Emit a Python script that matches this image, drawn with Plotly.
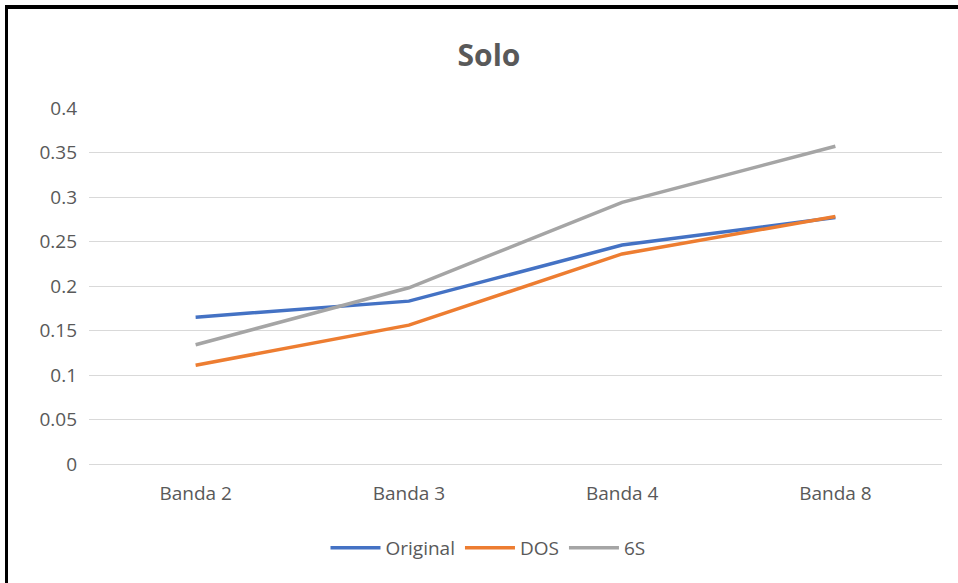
import plotly.graph_objects as go

categories = ["Banda 2", "Banda 3", "Banda 4", "Banda 8"]
original = [0.165, 0.183, 0.246, 0.277]
dos = [0.111, 0.156, 0.236, 0.278]
six_s = [0.134, 0.198, 0.294, 0.357]
y_ticks = [0, 0.05, 0.1, 0.15, 0.2, 0.25, 0.3, 0.35, 0.4]
y_tick_text = ["0", "0.05", "0.1", "0.15", "0.2", "0.25", "0.3", "0.35", "0.4"]

FONT = "Open Sans"
TXT = "#595959"

fig = go.Figure()
for name, vals, col in [("Original", original, "#4472C4"),
                        ("DOS", dos, "#ED7D31"),
                        ("6S", six_s, "#A5A5A5")]:
    fig.add_trace(go.Scatter(x=categories, y=vals, name=name, mode="lines",
                             line=dict(color=col, width=3.5)))

W, H = 958, 583
L, R, T, B = 89, 16, 108, 119
pw, ph = W - L - R, H - T - B

def px_x(p):
    return (p - L) / pw

def px_y(p):
    return (H - B - p) / ph

fig.update_layout(
    width=W, height=H,
    margin=dict(l=L, r=R, t=T, b=B),
    paper_bgcolor="white", plot_bgcolor="white",
    font=dict(family=FONT, color=TXT, size=19),
    title=dict(text="<b>Solo</b>", x=px_x(489), xref="paper", xanchor="center",
               y=1 - 55 / H, yanchor="middle",
               font=dict(family=FONT, size=30, color=TXT)),
    xaxis=dict(showgrid=False, showline=False, zeroline=False, ticks="",
               tickfont=dict(size=19, color=TXT), range=[-0.5, 3.5],
               ticklabelstandoff=16),
    yaxis=dict(range=[0, 0.4], tickvals=y_ticks, ticktext=y_tick_text,
               showgrid=True, gridcolor="#D9D9D9", gridwidth=1,
               zeroline=True, zerolinecolor="#D9D9D9", zerolinewidth=1,
               showline=False, ticks="", ticklabelstandoff=11,
               tickfont=dict(size=19, color=TXT)),
    legend=dict(orientation="h", x=px_x(488), xanchor="center", y=px_y(548), yanchor="middle",
                font=dict(size=19, color=TXT), itemwidth=50, tracegroupgap=0,
                bgcolor="rgba(0,0,0,0)"),
    showlegend=True,
)

# outer black frame (left and top edges)
fig.add_shape(type="line", xref="paper", yref="paper",
              x0=px_x(6.5), x1=px_x(6.5), y0=px_y(5), y1=px_y(590),
              line=dict(color="black", width=3))
fig.add_shape(type="line", xref="paper", yref="paper",
              x0=px_x(5), x1=px_x(965), y0=px_y(7), y1=px_y(7),
              line=dict(color="black", width=4))

fig.write_html("out.html")
